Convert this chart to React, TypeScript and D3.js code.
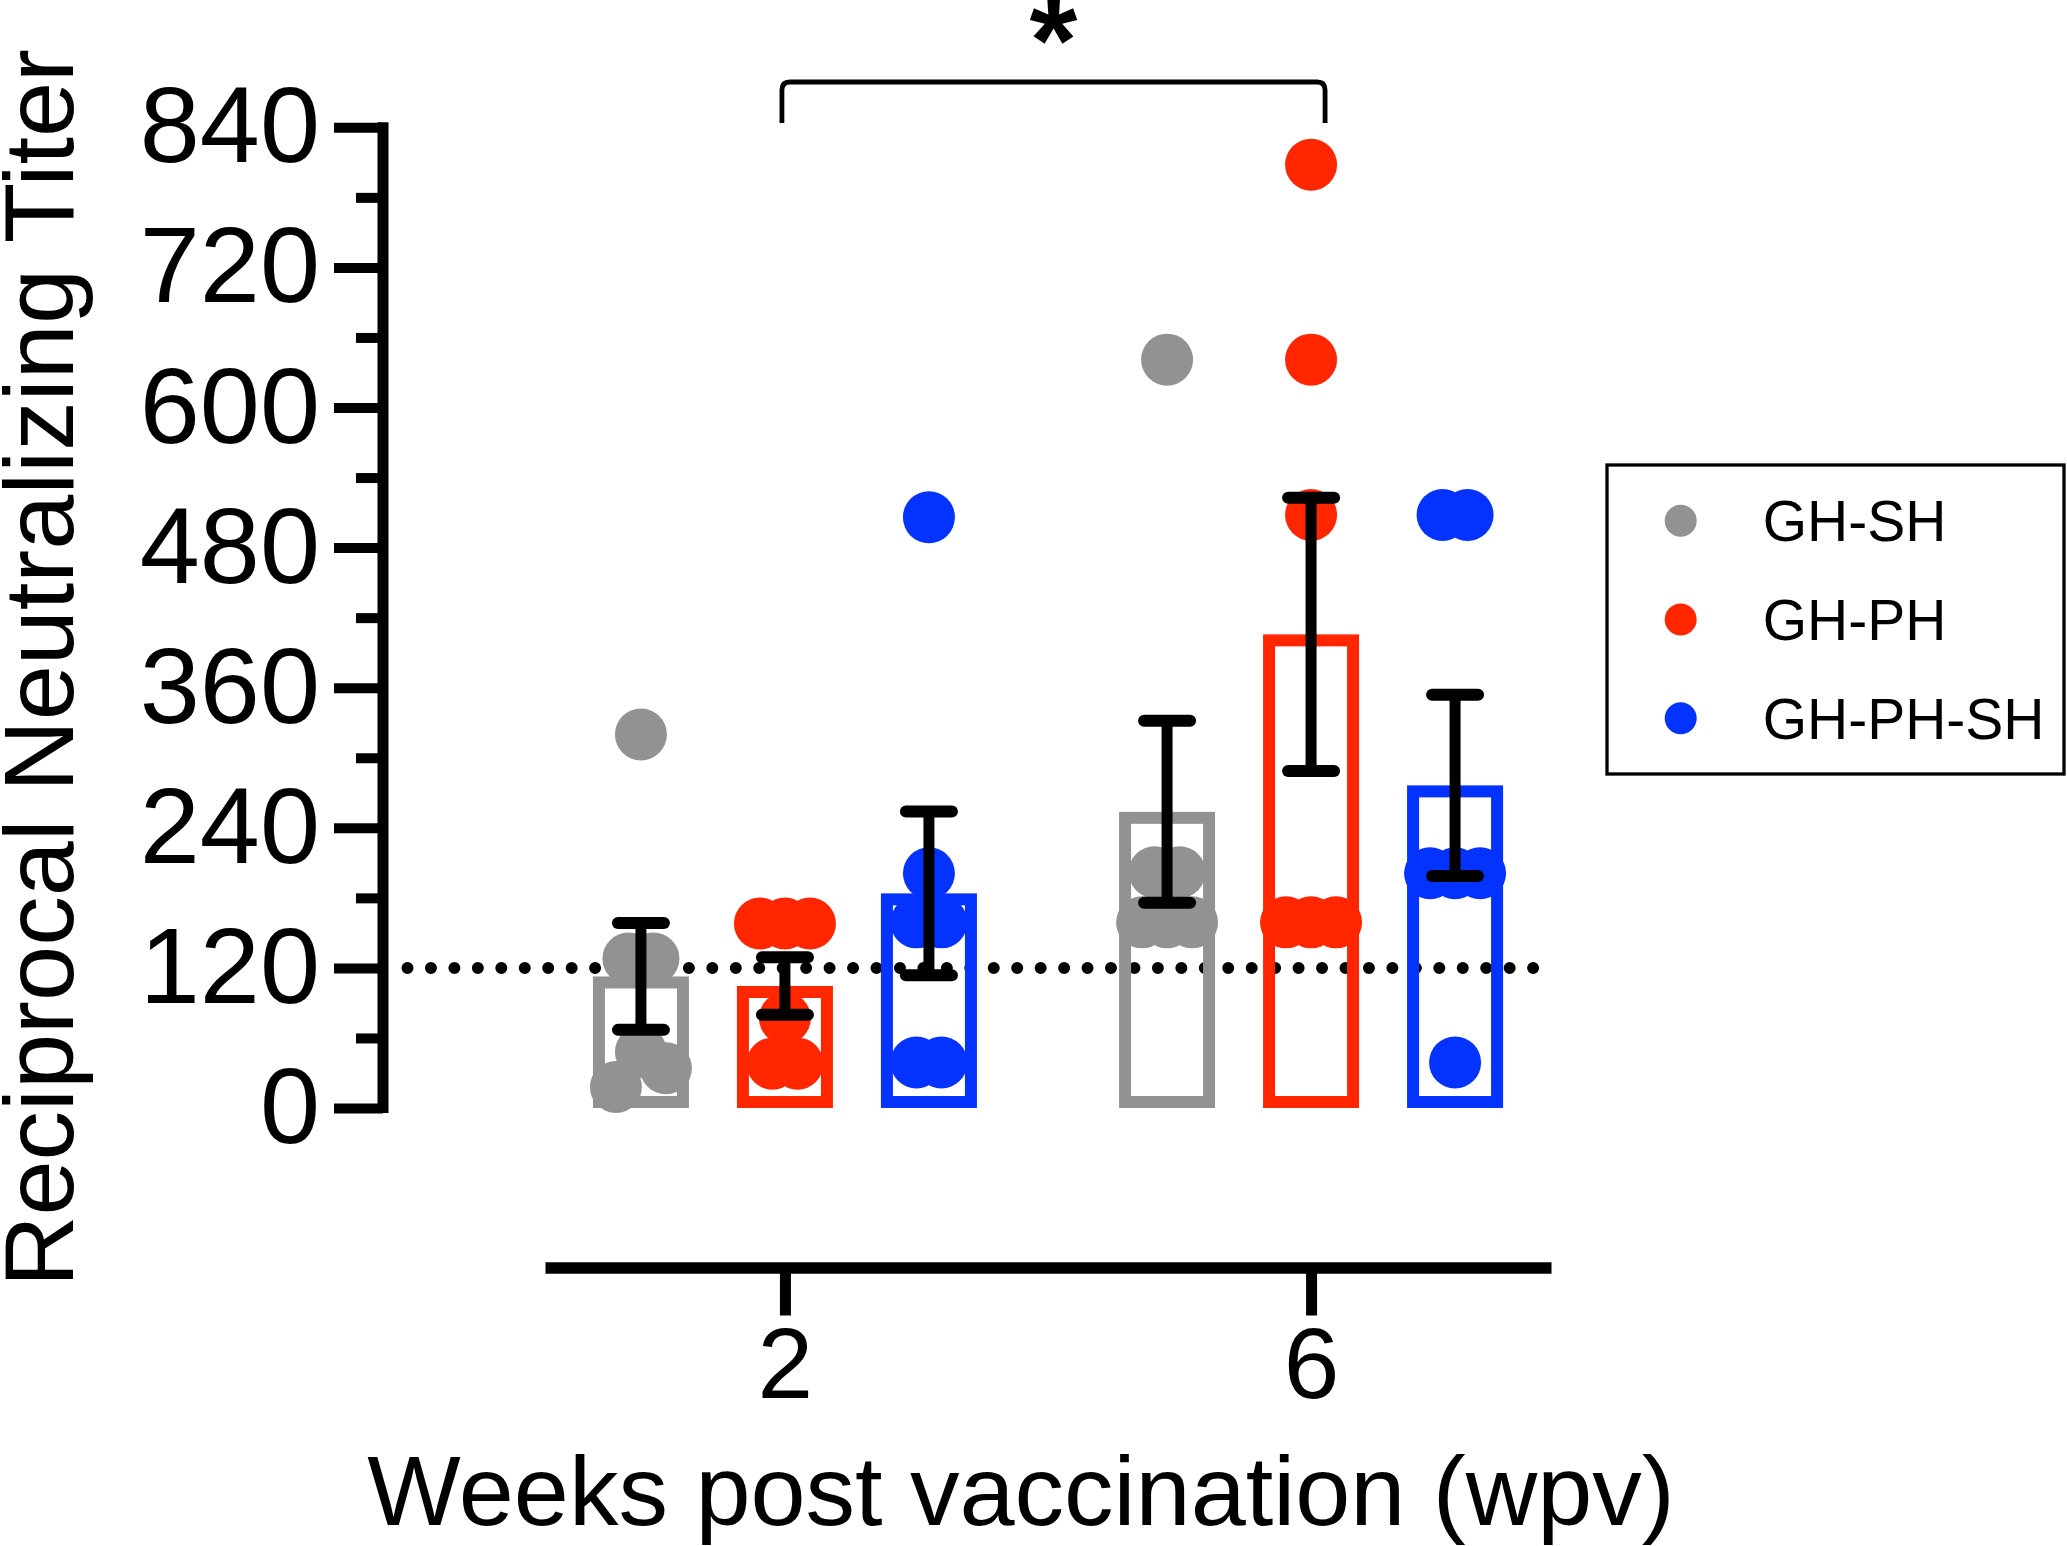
import React, { useEffect, useRef } from 'react';
import * as d3 from 'd3';

const weeks = ['2', '6'];
const groups = ['GH-SH', 'GH-PH', 'GH-PH-SH'];
const groupColors = ['#929292', '#ff2600', '#0433ff'];

// reciprocal titers per animal
const ghSh2 = [320, 128, 128, 48, 34, 18];
const ghSh6 = [641, 202, 202, 159, 159, 159];
const ghPh2 = [158, 158, 158, 77, 38, 38];
const ghPh6 = [808, 641, 508, 159, 159, 159];
const ghPhSh2 = [506, 201, 159, 159, 39, 39];
const ghPhSh6 = [508, 508, 201, 201, 201, 39];

const yTicks = [0, 120, 240, 360, 480, 600, 720, 840];
const detectionLimit = 120;
const significance = '*';

const titers: Record<string, Record<string, number[]>> = {
  'GH-SH': { '2': ghSh2, '6': ghSh6 },
  'GH-PH': { '2': ghPh2, '6': ghPh6 },
  'GH-PH-SH': { '2': ghPhSh2, '6': ghPhSh6 },
};

const FONT = '"Liberation Sans", Arial, Helvetica, sans-serif';
const W = 2067;
const H = 1546;
const R = 26; // dot radius
const SP = 25; // horizontal spacing between dots sharing a row

// Prism-like scatter: equal values side by side, near values pushed aside
function dodge(values: number[], yPos: (v: number) => number) {
  const order = d3.sort(d3.range(values.length), i => -values[i]);
  const rows = d3.groups(order, i => values[i]);
  const placed: { dx: number; py: number }[] = [];
  const offsets: number[] = new Array(values.length).fill(0);
  rows.forEach(([v, idx]) => {
    const py = yPos(v);
    if (idx.length > 1) {
      idx.forEach((i, k) => {
        offsets[i] = (k - (idx.length - 1) / 2) * SP;
        placed.push({ dx: offsets[i], py });
      });
    } else {
      const cands = [0, SP, -SP, 2 * SP, -2 * SP];
      const dx = cands.find(c =>
        placed.every(p => Math.abs(p.dx - c) >= SP * 0.8 || Math.abs(p.py - py) >= 36)
      ) ?? 0;
      offsets[idx[0]] = dx;
      placed.push({ dx, py });
    }
  });
  return offsets;
}

const App: React.FC = () => {
  const svgRef = useRef<SVGSVGElement>(null);

  useEffect(() => {
    if (!svgRef.current) return;
    const svg = d3.select(svgRef.current);
    svg.selectAll('*').remove();

    const y = d3.scaleLinear().domain([0, 840]).range([1108, 127.3]);
    const x = d3.scalePoint<string>().domain(weeks).range([545, 1551]).padding(0.456);
    const xs = d3.scaleBand<string>().domain(groups).range([-216, 216])
      .paddingInner(1 / 3).paddingOuter(1 / 6);
    const color = d3.scaleOrdinal<string, string>().domain(groups).range(groupColors);
    const center = (w: string, g: string) => (x(w) as number) + (xs(g) as number) + xs.bandwidth() / 2;

    // y axis
    const axisX = 383;
    const minor = d3.range(60, 841, 120);
    svg.append('g')
      .attr('transform', `translate(${axisX},0)`)
      .call(d3.axisLeft(y).tickValues(minor).tickSize(27).tickSizeOuter(0).tickFormat(() => ''))
      .call(g => g.select('.domain').remove());
    const yAxis = svg.append('g')
      .attr('transform', `translate(${axisX},0)`)
      .call(d3.axisLeft(y).tickValues(yTicks).tickSize(49).tickSizeOuter(0).tickPadding(14))
      .call(g => g.select('.domain').remove());
    yAxis.selectAll('text')
      .attr('font-family', FONT)
      .attr('font-size', 108)
      .attr('fill', '#000');
    svg.selectAll('.tick line').attr('stroke', '#000').attr('stroke-width', 10);
    svg.append('line')
      .attr('x1', axisX).attr('x2', axisX)
      .attr('y1', y(840) - 5).attr('y2', y(0) + 5)
      .attr('stroke', '#000').attr('stroke-width', 11);

    // x axis
    const xAxis = svg.append('g')
      .attr('transform', 'translate(0,1267.5)')
      .call(d3.axisBottom(x).tickSize(48).tickSizeOuter(0).tickPadding(11.5));
    xAxis.select('.domain').attr('stroke', '#000').attr('stroke-width', 11.7);
    xAxis.selectAll('.tick line').attr('stroke', '#000').attr('stroke-width', 11);
    xAxis.selectAll('text')
      .attr('font-family', FONT)
      .attr('font-size', 100)
      .attr('fill', '#000');

    // detection limit
    svg.append('line')
      .attr('x1', 407.5).attr('x2', 1534)
      .attr('y1', y(detectionLimit)).attr('y2', y(detectionLimit))
      .attr('stroke', '#000').attr('stroke-width', 12)
      .attr('stroke-linecap', 'round')
      .attr('stroke-dasharray', '0 23.45');

    const sw = 12;
    const cells = groups.flatMap(g => weeks.map(w => {
      const vals = titers[g][w];
      const mean = d3.mean(vals) as number;
      const sem = (d3.deviation(vals) as number) / Math.sqrt(vals.length);
      return { g, w, vals, mean, sem, cx: center(w, g) };
    }));

    // bars
    svg.append('g').selectAll('rect')
      .data(cells)
      .join('rect')
      .attr('x', d => d.cx - xs.bandwidth() / 2 + sw / 2)
      .attr('y', d => y(d.mean) + sw / 2)
      .attr('width', xs.bandwidth() - sw)
      .attr('height', d => y(0) - y(d.mean) - sw)
      .attr('fill', 'none')
      .attr('stroke', d => color(d.g))
      .attr('stroke-width', sw);

    // points
    const pts = svg.append('g');
    cells.forEach(c => {
      const offs = dodge(c.vals, y);
      pts.selectAll(null)
        .data(c.vals.map((v, i) => ({ v, dx: offs[i] })))
        .join('circle')
        .attr('cx', d => c.cx + d.dx)
        .attr('cy', d => y(d.v))
        .attr('r', R)
        .attr('fill', color(c.g));
    });

    // mean ± SEM
    const eb = svg.append('g').attr('stroke', '#000');
    cells.forEach(c => {
      const top = y(c.mean + c.sem);
      const bot = y(c.mean - c.sem);
      eb.append('line')
        .attr('x1', c.cx).attr('x2', c.cx).attr('y1', top).attr('y2', bot)
        .attr('stroke-width', 11);
      [top, bot].forEach(yy => {
        eb.append('line')
          .attr('x1', c.cx - 23).attr('x2', c.cx + 23).attr('y1', yy).attr('y2', yy)
          .attr('stroke-width', 12).attr('stroke-linecap', 'round');
      });
    });

    // significance bracket between GH-PH at 2 and 6 wpv
    const bx0 = center('2', 'GH-PH') - 3;
    const bx1 = center('6', 'GH-PH') + 14;
    const by = 82;
    const byb = 123;
    svg.append('path')
      .attr('d', `M${bx0},${byb} L${bx0},${by + 8} Q${bx0},${by} ${bx0 + 8},${by} L${bx1 - 8},${by} Q${bx1},${by} ${bx1},${by + 8} L${bx1},${byb}`)
      .attr('fill', 'none').attr('stroke', '#000').attr('stroke-width', 4.8);
    svg.append('text')
      .attr('x', (bx0 + bx1) / 2).attr('y', 82)
      .attr('text-anchor', 'middle')
      .attr('font-family', FONT).attr('font-weight', 'bold').attr('font-size', 123)
      .text(significance);

    // axis titles
    svg.append('text')
      .attr('transform', 'translate(73,668) rotate(-90)')
      .attr('text-anchor', 'middle')
      .attr('font-family', FONT).attr('font-size', 99)
      .text('Reciprocal Neutralizing Titer');
    svg.append('text')
      .attr('x', 1021).attr('y', 1525)
      .attr('text-anchor', 'middle')
      .attr('font-family', FONT).attr('font-size', 99)
      .text('Weeks post vaccination (wpv)');

    // legend
    const lg = svg.append('g');
    lg.append('rect')
      .attr('x', 1607).attr('y', 465).attr('width', 457).attr('height', 309)
      .attr('fill', 'none').attr('stroke', '#000').attr('stroke-width', 3.3);
    groups.forEach((g, i) => {
      const cy = 520.7 + i * 98.8;
      lg.append('circle').attr('cx', 1680.7).attr('cy', cy).attr('r', 16).attr('fill', color(g));
      lg.append('text')
        .attr('x', 1762.7).attr('y', cy + 20.5)
        .attr('font-family', FONT).attr('font-size', 57)
        .text(g);
    });
  }, []);

  return (
    <svg
      ref={svgRef}
      width={W}
      height={H}
      style={{ position: 'absolute', left: 0, top: 0, background: '#fff', display: 'block' }}
    />
  );
};

export default App;
